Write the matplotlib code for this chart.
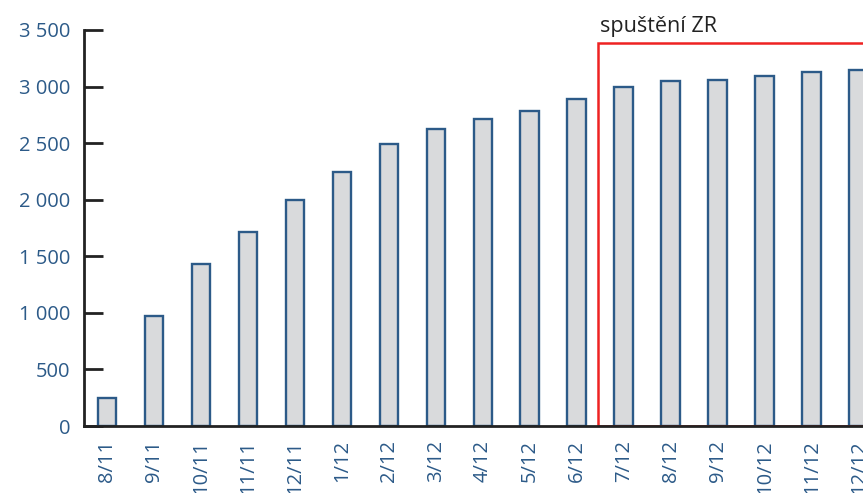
import matplotlib.pyplot as plt
from matplotlib.patches import Rectangle

# data
months = ['8/11', '9/11', '10/11', '11/11', '12/11', '1/12', '2/12', '3/12', '4/12',
          '5/12', '6/12', '7/12', '8/12', '9/12', '10/12', '11/12', '12/12']
values = [250, 975, 1435, 1715, 2000, 2242, 2492, 2622, 2716,
          2787, 2893, 2995, 3045, 3060, 3090, 3130, 3145]
zr_label = 'spuštění ZR'
zr_start = 10.45   # between 6/12 and 7/12
zr_top = 3386

blue = '#2c5a88'
plt.rcParams['font.family'] = ['Open Sans', 'DejaVu Sans']

fig = plt.figure(figsize=(8.63, 4.93), dpi=100)
ax = fig.add_axes([84 / 863, 1 - 426 / 493, 1 - 84 / 863, 396 / 493])

x = list(range(len(months)))
ax.bar(x, values, width=0.4, color='#d9dadc', edgecolor=blue, linewidth=1.7, zorder=2)

# red frame marking the ZR launch period
ax.add_patch(Rectangle((zr_start, 0), 20, zr_top, fill=False, edgecolor='#ee2222',
                       linewidth=1.8, zorder=3))
ax.text(zr_start + 0.04, 3480, zr_label, fontsize=15.5, color='#222222',
        ha='left', va='baseline', clip_on=False)

ax.set_xlim(-0.49, 16.09)
ax.set_ylim(0, 3500)
ax.set_yticks(range(0, 3501, 500))
ax.set_yticklabels([f'{v:,}'.replace(',', ' ') for v in range(0, 3501, 500)])
ax.set_xticks(x)
ax.set_xticklabels(months, rotation=90)

for s in ['top', 'right']:
    ax.spines[s].set_visible(False)
for s in ['left', 'bottom']:
    ax.spines[s].set_linewidth(2)
    ax.spines[s].set_color('#222222')
    ax.spines[s].set_zorder(4)

ax.tick_params(axis='y', direction='in', length=14, width=2, color='#222222',
               labelsize=14.5, labelcolor=blue, pad=10)
ax.tick_params(axis='x', length=0, labelsize=14.5, labelcolor=blue, pad=10)

fig.savefig('out.png', dpi=100)
